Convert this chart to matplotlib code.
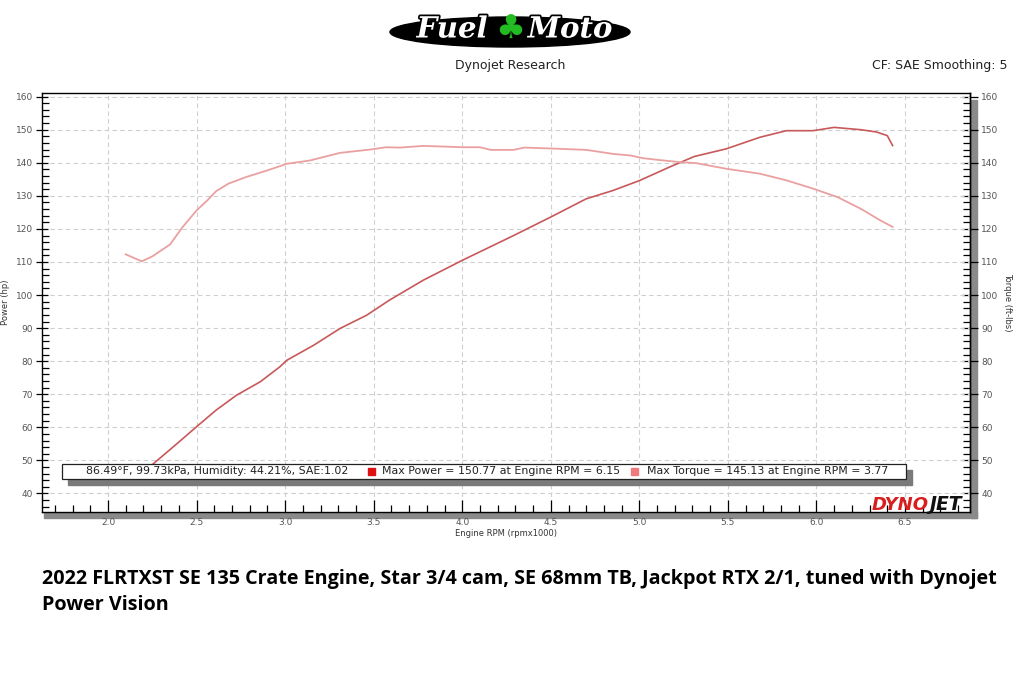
import matplotlib
matplotlib.use("Agg")
import matplotlib.pyplot as plt
from matplotlib.patches import Rectangle, Ellipse
from matplotlib.ticker import MultipleLocator
import matplotlib.patheffects as pe

# ---- data ----
torque_rpm = [2.10, 2.19, 2.25, 2.35, 2.42, 2.50, 2.56, 2.61, 2.68, 2.78, 2.90, 3.01, 3.14, 3.31,
              3.48, 3.57, 3.65, 3.78, 3.90, 4.00, 4.10, 4.16, 4.29, 4.35, 4.51, 4.70, 4.85, 4.95,
              5.02, 5.10, 5.23, 5.32, 5.49, 5.68, 5.83, 5.98, 6.12, 6.25, 6.36, 6.43]
torque_val = [112.3, 110.2, 111.7, 115.3, 120.5, 125.6, 128.6, 131.4, 133.7, 135.7, 137.7, 139.7,
              140.7, 143.0, 144.0, 144.7, 144.6, 145.1, 144.9, 144.7, 144.7, 143.9, 143.9, 144.6,
              144.3, 143.9, 142.7, 142.2, 141.4, 140.9, 140.2, 139.9, 138.2, 136.7, 134.7, 132.2,
              129.6, 126.1, 122.6, 120.6]
power_rpm = [2.10, 2.19, 2.28, 2.39, 2.50, 2.61, 2.725, 2.86, 2.97, 3.01, 3.16, 3.31, 3.46, 3.59,
             3.78, 4.00, 4.29, 4.50, 4.70, 4.85, 5.00, 5.17, 5.31, 5.49, 5.68, 5.83, 5.98, 6.10,
             6.25, 6.34, 6.40, 6.43]
power_val = [44.9, 46.0, 50.1, 55.1, 60.2, 65.2, 69.7, 73.8, 78.3, 80.3, 84.8, 89.9, 93.9, 98.5,
             104.5, 110.5, 118.0, 123.6, 129.1, 131.6, 134.6, 138.7, 141.9, 144.2, 147.7, 149.7,
             149.7, 150.7, 150.0, 149.3, 148.2, 145.2]
y_ticks = [40, 50, 60, 70, 80, 90, 100, 110, 120, 130, 140, 150, 160]
x_ticks = [2.0, 2.5, 3.0, 3.5, 4.0, 4.5, 5.0, 5.5, 6.0, 6.5]
conditions = "86.49°F, 99.73kPa, Humidity: 44.21%, SAE:1.02"
max_power_txt = "Max Power = 150.77 at Engine RPM = 6.15"
max_torque_txt = "Max Torque = 145.13 at Engine RPM = 3.77"
caption = ("2022 FLRTXST SE 135 Crate Engine, Star 3/4 cam, SE 68mm TB, Jackpot RTX 2/1, tuned with Dynojet\n"
           "Power Vision")

W, H = 1024, 699
fig = plt.figure(figsize=(W / 100, H / 100), dpi=100)
fig.patch.set_facecolor("white")

def fx(px):
    return px / W

def fy(py):
    return 1 - py / H

L, R, T, B = 42, 970, 93, 512
# shadows
fig.add_artist(Rectangle((fx(R + 1), fy(B + 6)), fx(6), (B + 6 - 100) / H,
                         transform=fig.transFigure, color="#8a8a8a", zorder=0))
fig.add_artist(Rectangle((fx(L + 2), fy(B + 6)), fx(R - L + 5), 6 / H,
                         transform=fig.transFigure, color="#8a8a8a", zorder=0))

ax = fig.add_axes([fx(L), fy(B), fx(R - L), (B - T) / H])
ax.set_zorder(2)
ax.set_xlim(1.627, 6.867)
ax.set_ylim(34.4, 161.1)
ax.set_xticks(x_ticks)
ax.set_xticklabels([f"{v:.1f}" for v in x_ticks])
ax.xaxis.set_minor_locator(MultipleLocator(0.1))
ax.set_yticks(y_ticks)
ax.yaxis.set_minor_locator(MultipleLocator(2))
tick_col = "#555555"
ax.tick_params(axis="x", which="major", direction="in", length=9, width=0.9, labelsize=6.5,
               labelcolor=tick_col, pad=4)
ax.tick_params(axis="x", which="minor", direction="in", length=5, width=0.9)
ax.tick_params(axis="y", which="major", direction="inout", length=9, width=0.9, labelsize=6.5,
               labelcolor=tick_col, pad=2)
ax.tick_params(axis="y", which="minor", direction="in", length=5, width=0.9)
ax.tick_params(axis="x", which="both", top=False, labeltop=False, bottom=True)
ax.tick_params(axis="y", which="both", right=False, labelright=False, left=True)
for s in ax.spines.values():
    s.set_linewidth(1.0)
ax.grid(True, which="major", color="#cfcfcf", linestyle=(0, (4, 3)), linewidth=0.8)

ax.plot(power_rpm, power_val, color="#c8585a", linewidth=1.2, zorder=3)
ax.plot(torque_rpm, torque_val, color="#eba0a0", linewidth=1.3, zorder=3)

sec = ax.secondary_yaxis("right")
sec.set_yticks(y_ticks)
sec.yaxis.set_minor_locator(MultipleLocator(2))
sec.tick_params(axis="y", which="major", direction="inout", length=12, width=0.9, labelsize=6.5,
                labelcolor=tick_col, pad=2)
sec.tick_params(axis="y", which="minor", direction="in", length=5, width=0.9)
sec.spines["right"].set_linewidth(1.0)

ax.set_ylabel("Power (hp)", fontsize=6, color="#333333", labelpad=4)
sec.set_ylabel("Torque (ft-lbs)", fontsize=6, color="#333333", rotation=270, labelpad=10)
ax.set_xlabel("Engine RPM (rpmx1000)", fontsize=6, color="#333333", labelpad=2)

# legend box
bx0, bx1, by0, by1 = 62, 906, 464, 479
fig.add_artist(Rectangle((fx(bx0 + 6), fy(by1 + 6)), fx(bx1 - bx0), (by1 - by0) / H,
                         transform=fig.transFigure, color="#7a7a7a", zorder=5))
fig.add_artist(Rectangle((fx(bx0), fy(by1)), fx(bx1 - bx0), (by1 - by0) / H,
                         transform=fig.transFigure, facecolor="white", edgecolor="#222222",
                         linewidth=0.9, zorder=6))
ty = fy(471.5)
tkw = dict(fontsize=7.95, color="#222222", va="center", ha="left", zorder=7, family="DejaVu Sans")
fig.text(fx(86), ty, conditions, **tkw)
fig.add_artist(Rectangle((fx(368), fy(475)), fx(7), 7 / H, transform=fig.transFigure,
                         color="#dd1111", zorder=7))
fig.text(fx(382), ty, max_power_txt, **tkw)
fig.add_artist(Rectangle((fx(631), fy(475)), fx(7), 7 / H, transform=fig.transFigure,
                         color="#f07a7a", zorder=7))
fig.text(fx(647), ty, max_torque_txt, **tkw)

# DYNOJET logo
fig.text(fx(872), fy(505), "DYNO", fontsize=13, fontweight="heavy", style="italic",
         color="#d81e1e", va="center", ha="left", zorder=7, family="DejaVu Sans")
fig.text(fx(929), fy(505), "JET", fontsize=13.5, fontweight="heavy", style="italic",
         color="#111111", va="center", ha="left", zorder=7, family="DejaVu Sans")

# header
fig.text(fx(510), fy(66), "Dynojet Research", fontsize=9, color="#222222", ha="center", va="center")
fig.text(fx(1007), fy(66), "CF: SAE Smoothing: 5", fontsize=9, color="#222222", ha="right", va="center")

# Fuel Moto logo
fig.add_artist(Ellipse((fx(510), fy(32)), fx(240), 30 / H, transform=fig.transFigure,
                       color="black", zorder=1))
stroke = [pe.withStroke(linewidth=2.5, foreground="black")]
fig.text(fx(452), fy(29), "Fuel", fontsize=21, fontweight="bold", style="italic", color="white",
         ha="center", va="center", path_effects=stroke, zorder=2, family="DejaVu Serif")
fig.text(fx(570), fy(29), "Moto", fontsize=21, fontweight="bold", style="italic", color="white",
         ha="center", va="center", path_effects=stroke, zorder=2, family="DejaVu Serif")
fig.text(fx(510), fy(29), "\u2663", fontsize=24, color="#22bb22", ha="center", va="center",
         zorder=2, family="DejaVu Sans")

# caption
fig.text(fx(42), fy(592), caption, fontsize=14.2, fontweight="bold", color="black",
         ha="left", va="center", linespacing=1.35, family="Open Sans")

fig.savefig("out.png", dpi=100, facecolor="white")
